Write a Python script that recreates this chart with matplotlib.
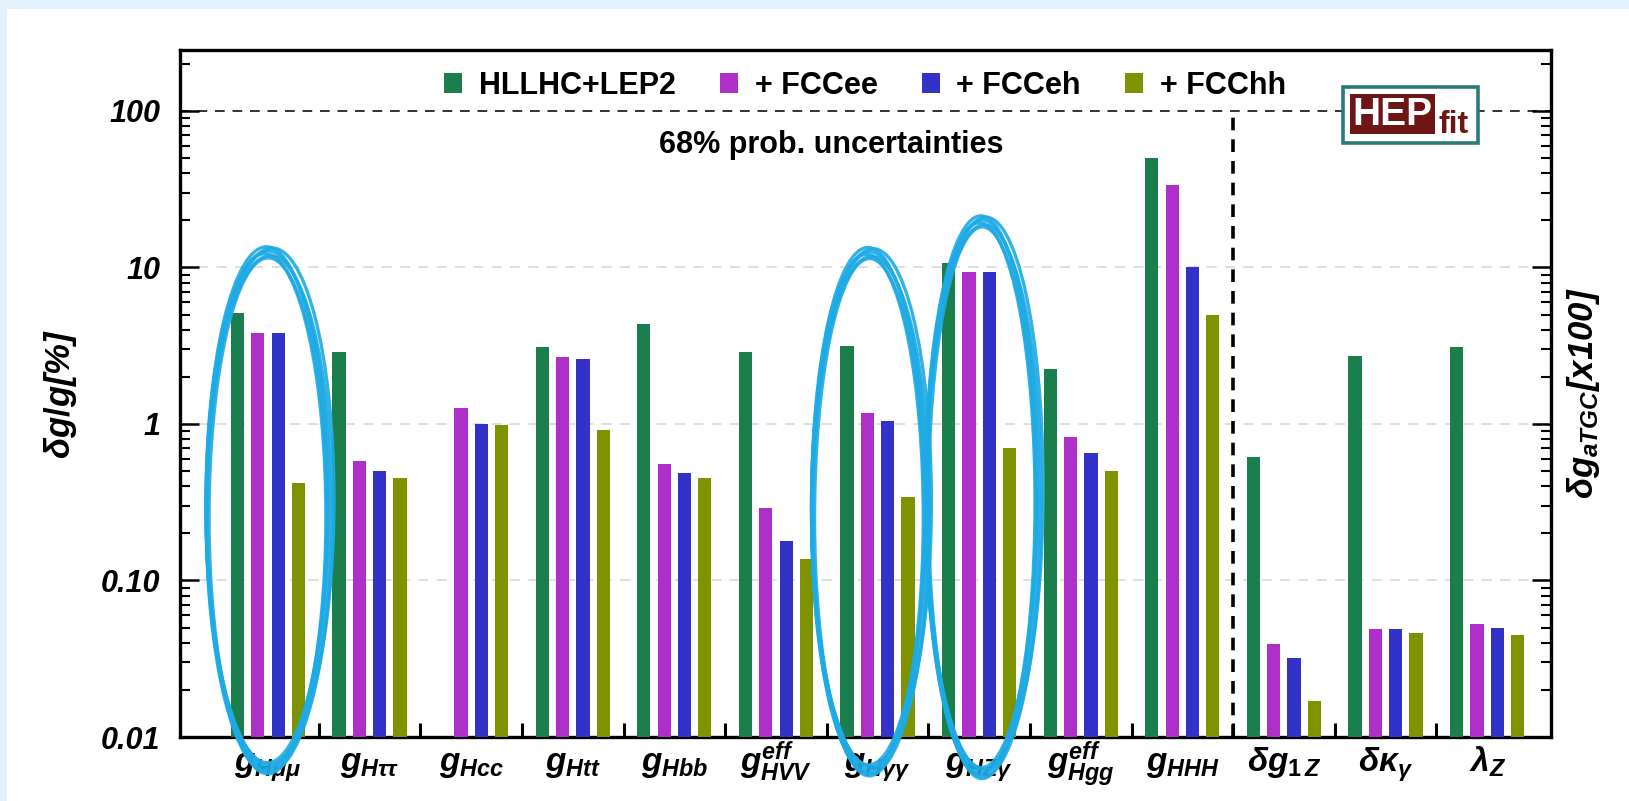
import numpy as np
import matplotlib
matplotlib.use("Agg")
import matplotlib.pyplot as plt
import matplotlib.transforms as mtransforms
from matplotlib.patches import Patch, Rectangle, Ellipse
from matplotlib.ticker import FixedLocator, FixedFormatter, LogLocator, NullFormatter

plt.rcParams["font.family"] = ["Liberation Sans", "DejaVu Sans"]
plt.rcParams["mathtext.fontset"] = "custom"
plt.rcParams["mathtext.it"] = "Liberation Sans:bold:italic"
plt.rcParams["mathtext.rm"] = "Liberation Sans:bold"
plt.rcParams["mathtext.bf"] = "Liberation Sans:bold"

# couplings on the x axis
couplings = [
    r"$g_{H\mu\mu}$", r"$g_{H\tau\tau}$", r"$g_{Hcc}$", r"$g_{Htt}$", r"$g_{Hbb}$",
    r"$g^{eff}_{HVV}$", r"$g_{H\gamma\gamma}$", r"$g_{HZ\gamma}$", r"$g^{eff}_{Hgg}$",
    r"$g_{HHH}$", r"$\delta g_{1\,Z}$", r"$\delta\kappa_{\gamma}$", r"$\lambda_{Z}$",
]
series = ["HLLHC+LEP2", "+ FCCee", "+ FCCeh", "+ FCChh"]

# 68% uncertainties in %
hllhc = [5.1, 2.88, np.nan, 3.08, 4.35, 2.88, 3.13, 10.7, 2.25, 50.0, 0.615, 2.71, 3.12]
fccee = [3.81, 0.58, 1.26, 2.67, 0.557, 0.29, 1.18, 9.41, 0.83, 33.5, 0.039, 0.0493, 0.0528]
fcceh = [3.81, 0.50, 1.0, 2.61, 0.485, 0.178, 1.04, 9.41, 0.65, 10.0, 0.0322, 0.0493, 0.0496]
fcchh = [0.42, 0.45, 0.985, 0.91, 0.45, 0.137, 0.341, 0.70, 0.50, 5.0, 0.017, 0.0465, 0.0447]

yticks = [0.01, 0.1, 1, 10, 100]
yticklabels = ["0.01", "0.10", "1", "10", "100"]

# couplings highlighted with the hand-drawn rings
circled = [0, 6, 7]

colors = ["#1a7f4d", "#ae30c8", "#3232c8", "#7f9200"]
ring_color = "#1eaae4"

fig = plt.figure(figsize=(16.29, 8.01), dpi=100, facecolor="#e3f1fc")
fig.patches.append(Rectangle((7 / 1629, 0), 1, 1 - 9 / 801, transform=fig.transFigure,
                             facecolor="white", edgecolor="none", zorder=-10))
ax = fig.add_axes([0.1105, 0.0799, 0.8417, 0.8577])
ax.set_facecolor("none")

x = np.arange(len(couplings))
width = 0.13
for k, (vals, name) in enumerate(zip([hllhc, fccee, fcceh, fcchh], series)):
    ax.bar(x + (k - 1.5) * 0.2, vals, width, color=colors[k], label=name, zorder=3)

ax.set_yscale("log")
ax.set_ylim(0.01, 245)
ax.set_xlim(-0.866, 12.63)

# grid: light dashed at 0.1/1/10, dark dashed at 100
for yv in [0.1, 1, 10]:
    ax.axhline(yv, color="#d9d9d9", lw=1.2, ls=(0, (6, 5)), zorder=1)
ax.axhline(100, color="#333333", lw=1.4, ls=(0, (5, 4)), zorder=1)
ax.plot([9.5, 9.5], [0.01, 100], color="black", lw=2.6, ls=(0, (3.5, 2.5)), zorder=2)

ax.yaxis.set_major_locator(FixedLocator(yticks))
ax.yaxis.set_major_formatter(FixedFormatter(yticklabels))
ax.yaxis.set_minor_locator(LogLocator(base=10, subs=np.arange(2, 10)))
ax.yaxis.set_minor_formatter(NullFormatter())
ax.tick_params(axis="y", which="major", direction="in", length=14, width=1.8,
               left=True, right=True, pad=14)
ax.tick_params(axis="y", which="minor", direction="in", length=7, width=1.5,
               left=True, right=True)
for lab in ax.get_yticklabels():
    lab.set_fontsize(22)
    lab.set_fontweight("bold")
    lab.set_fontstyle("italic")

ax.xaxis.set_major_locator(FixedLocator(x[:-1] + 0.5))
ax.xaxis.set_major_formatter(NullFormatter())
ax.tick_params(axis="x", which="major", direction="in", length=10, width=2.2, top=False)
ax.tick_params(axis="x", which="minor", bottom=False, top=False)

for sp in ax.spines.values():
    sp.set_linewidth(2.4)

trans = mtransforms.blended_transform_factory(ax.transData, ax.transAxes)
for i, name in enumerate(couplings):
    ax.text(i, -0.05, name, transform=trans, ha="center", va="baseline", fontsize=24)

ax.text(-0.087, 0.5, r"$\delta g/g$[%]", transform=ax.transAxes, rotation=90,
        ha="center", va="center", fontsize=25, fontweight="bold", fontstyle="italic")
ax.text(1.0233, 0.5, r"$\delta g_{aTGC}$[x100]", transform=ax.transAxes, rotation=90,
        ha="center", va="center", fontsize=25, fontweight="bold", fontstyle="italic")

handles = [Patch(facecolor=c, edgecolor="none") for c in colors]
ax.legend(handles, series, loc="center left", bbox_to_anchor=(0.1926, 0.948), ncol=4,
          frameon=False, handlelength=0.59, handleheight=0.59, handletextpad=0.55,
          columnspacing=1.44, prop={"size": 22, "weight": "bold"}, borderaxespad=0,
          borderpad=0)

ax.text(0.475, 0.862, "68% prob. uncertainties", transform=ax.transAxes,
        ha="center", va="center", fontsize=22, fontweight="bold")

# HEPfit logo
ax.add_patch(Rectangle((0.848, 0.865), 0.099, 0.081, transform=ax.transAxes,
                       facecolor="white", edgecolor="#2b7b78", lw=2.6, zorder=6))
ax.add_patch(Rectangle((0.853, 0.878), 0.062, 0.058, transform=ax.transAxes,
                       facecolor="#6e1515", edgecolor="none", zorder=7))
ax.text(0.884, 0.906, "HEP", transform=ax.transAxes, ha="center", va="center",
        color="white", fontsize=28, fontweight="bold", zorder=8)
ax.text(0.929, 0.879, "fit", transform=ax.transAxes, ha="center", va="baseline",
        color="#6e1515", fontsize=23, fontweight="bold", zorder=8)

# hand-drawn rings around selected couplings
ring_dx = [0.0, -0.08, 0.03]
ring_w = [1.22, 1.14, 1.12]
ring_yc = [0.332, 0.330, 0.351]
ring_h = [0.751, 0.753, 0.803]
strokes = [(0.0, 0.0, 0.0, 0.0), (0.025, 0.004, 0.03, 1.5), (-0.02, -0.004, -0.04, -1.2),
           (0.012, -0.007, 0.02, 0.8), (-0.01, 0.006, -0.02, -0.5), (0.0, -0.01, -0.06, 0.3)]
for j, c in enumerate(circled):
    for dx, dy, dw, ang in strokes:
        ax.add_patch(Ellipse((c + ring_dx[j] + dx, ring_yc[j] + dy), ring_w[j] + dw, ring_h[j],
                             angle=ang, transform=trans, fill=False, edgecolor=ring_color,
                             lw=2.4, alpha=0.9, clip_on=False, zorder=10))

fig.savefig("out.png", dpi=100, facecolor=fig.get_facecolor())
